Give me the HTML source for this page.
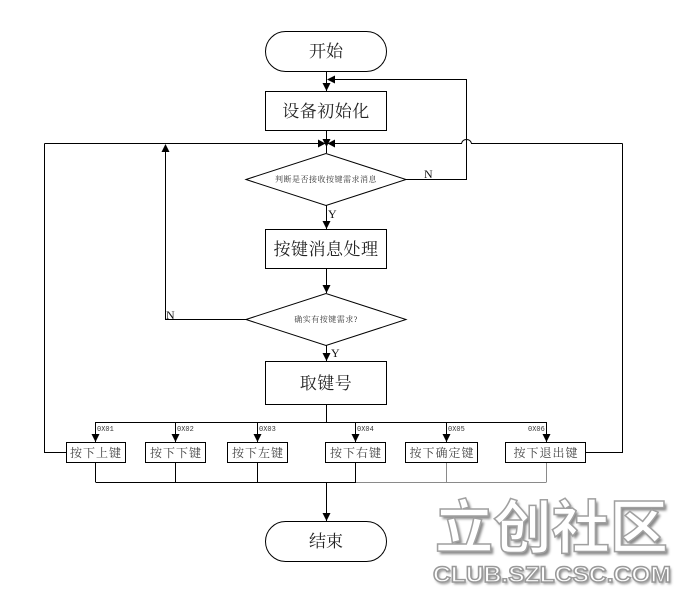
<!DOCTYPE html>
<html><head><meta charset="utf-8">
<style>
html,body{margin:0;padding:0;background:#fff;}
svg{display:block;}
.cj{font-family:"Liberation Serif","Noto Serif CJK SC","Noto Sans CJK SC",serif;}
</style></head>
<body>
<svg width="685" height="595" viewBox="0 0 685 595" xmlns="http://www.w3.org/2000/svg">
<defs>
<filter id="sh" x="-10%" y="-10%" width="120%" height="130%">
<feGaussianBlur stdDeviation="1.2"/>
</filter>
</defs>
<rect width="685" height="595" fill="#fff"/>

<!-- watermark -->
<g font-family="'Noto Sans CJK SC','WenQuanYi Zen Hei',sans-serif" font-weight="bold">
<text x="437.5" y="551" font-size="58" textLength="233" lengthAdjust="spacingAndGlyphs" fill="#8a8a8a" filter="url(#sh)">立创社区</text>
<text x="435" y="548" font-size="58" textLength="233" lengthAdjust="spacingAndGlyphs" fill="#fff" stroke="#a0a0a0" stroke-width="1.5">立创社区</text>
</g>
<g font-family="'Liberation Sans',sans-serif" font-weight="bold">
<text x="434.5" y="584" font-size="22" textLength="238" lengthAdjust="spacingAndGlyphs" fill="#8a8a8a" filter="url(#sh)">CLUB.SZLCSC.COM</text>
<text x="433" y="582" font-size="22" textLength="238" lengthAdjust="spacingAndGlyphs" fill="#fff" stroke="#999" stroke-width="1.4">CLUB.SZLCSC.COM</text>
</g>

<g stroke="#000" stroke-width="1" fill="none">
<rect x="265.5" y="31.5" width="121" height="40" rx="20" ry="20"/>
<rect x="265.5" y="91.5" width="121" height="39"/>
<rect x="265.5" y="229.5" width="121" height="39"/>
<rect x="265.5" y="361.5" width="121" height="43"/>
<polygon points="246,179.5 326,153.5 406,179.5 326,205.5"/>
<polygon points="246,319.5 326,293.5 406,319.5 326,345.5"/>
<rect x="265.5" y="521.5" width="121" height="40" rx="20" ry="20"/>

<line x1="326.5" y1="72" x2="326.5" y2="91"/>
<line x1="326.5" y1="131" x2="326.5" y2="153"/>
<line x1="326.5" y1="205" x2="326.5" y2="229"/>
<line x1="326.5" y1="269" x2="326.5" y2="293"/>
<line x1="326.5" y1="345" x2="326.5" y2="361"/>
<line x1="326.5" y1="405" x2="326.5" y2="422"/>
<line x1="326.5" y1="482" x2="326.5" y2="521"/>

<polyline points="406,179.5 466.5,179.5 466.5,79.5 330,79.5"/>
<polyline points="44.5,143.5 330,143.5"/>
<path d="M322,143.5 H461.5 Q462.5,139.5 466.5,139.5 Q470.5,139.5 471.5,143.5 H622.5"/>
<polyline points="246,319.5 165.5,319.5 165.5,147"/>
<polyline points="66,452.5 44.5,452.5 44.5,143.5"/>
<polyline points="586,452.5 622.5,452.5 622.5,143.5"/>

<line x1="95.5" y1="422.5" x2="546.5" y2="422.5"/>
<line x1="95.5" y1="422" x2="95.5" y2="442"/>
<line x1="175.5" y1="422" x2="175.5" y2="442"/>
<line x1="257.5" y1="422" x2="257.5" y2="442"/>
<line x1="355.5" y1="422" x2="355.5" y2="442"/>
<line x1="446.5" y1="422" x2="446.5" y2="442"/>
<line x1="546.5" y1="422" x2="546.5" y2="442"/>

<rect x="66.5" y="442.5" width="59" height="20"/>
<rect x="145.5" y="442.5" width="60" height="20"/>
<rect x="227.5" y="442.5" width="60" height="20"/>
<rect x="325.5" y="442.5" width="60" height="20"/>
<rect x="405.5" y="442.5" width="72" height="20"/>
<rect x="505.5" y="442.5" width="80" height="20"/>

<line x1="95.5" y1="462" x2="95.5" y2="482"/>
<line x1="175.5" y1="462" x2="175.5" y2="482"/>
<line x1="257.5" y1="462" x2="257.5" y2="482"/>
<line x1="355.5" y1="462" x2="355.5" y2="482"/>
<line x1="95.5" y1="482.5" x2="356" y2="482.5"/>
</g>
<g stroke="#8a8a8a" stroke-width="1" fill="none">
<line x1="446.5" y1="463" x2="446.5" y2="482"/>
<line x1="546.5" y1="463" x2="546.5" y2="482"/>
<line x1="356" y1="482.5" x2="546.5" y2="482.5"/>
</g>

<g fill="#000">
<polygon points="322.5,83 330.5,83 326.5,91"/>
<polygon points="322.5,139 330.5,139 326.5,147"/>
<polygon points="318,139.5 318,147.5 325.5,143.5"/>
<polygon points="335,139.5 335,147.5 327.5,143.5"/>
<polygon points="335,75.5 335,83.5 327,79.5"/>
<polygon points="322.5,221 330.5,221 326.5,229"/>
<polygon points="322.5,285 330.5,285 326.5,293"/>
<polygon points="322.5,353 330.5,353 326.5,361"/>
<polygon points="161.5,152 169.5,152 165.5,144"/>
<polygon points="322.5,513 330.5,513 326.5,521"/>
<polygon points="91.5,434 99.5,434 95.5,442"/>
<polygon points="171.5,434 179.5,434 175.5,442"/>
<polygon points="253.5,434 261.5,434 257.5,442"/>
<polygon points="351.5,434 359.5,434 355.5,442"/>
<polygon points="442.5,434 450.5,434 446.5,442"/>
<polygon points="542.5,434 550.5,434 546.5,442"/>
</g>

<g class="cj" fill="#222" text-anchor="middle" font-size="17">
<text x="326" y="57">开始</text>
<text x="326" y="117" letter-spacing="0.5">设备初始化</text>
<text x="326" y="255" letter-spacing="0.5">按键消息处理</text>
<text x="326" y="389" letter-spacing="0.5">取键号</text>
<text x="326" y="547">结束</text>
</g>
<g class="cj" fill="#333" text-anchor="middle" font-size="8">
<text x="326" y="182" letter-spacing="0.5">判断是否接收按键需求消息</text>
<text x="326" y="322" letter-spacing="0.5">确实有按键需求?</text>
</g>
<g class="cj" fill="#444" text-anchor="middle" font-size="12">
<text x="96" y="457" letter-spacing="1">按下上键</text>
<text x="176" y="457" letter-spacing="1">按下下键</text>
<text x="258" y="457" letter-spacing="1">按下左键</text>
<text x="356" y="457" letter-spacing="1">按下右键</text>
<text x="442" y="457" letter-spacing="1">按下确定键</text>
<text x="546" y="457" letter-spacing="1">按下退出键</text>
</g>
<g font-family="'Liberation Serif',serif" fill="#111" font-size="12">
<text x="424" y="178">N</text>
<text x="328" y="218">Y</text>
<text x="166" y="319">N</text>
<text x="331" y="357">Y</text>
</g>
<g font-family="'Liberation Mono',monospace" fill="#333" font-size="7">
<text x="97" y="431">0X01</text>
<text x="177" y="431">0X02</text>
<text x="259" y="431">0X03</text>
<text x="357" y="431">0X04</text>
<text x="448" y="431">0X05</text>
<text x="528" y="431">0X06</text>
</g>
</svg>
</body></html>
